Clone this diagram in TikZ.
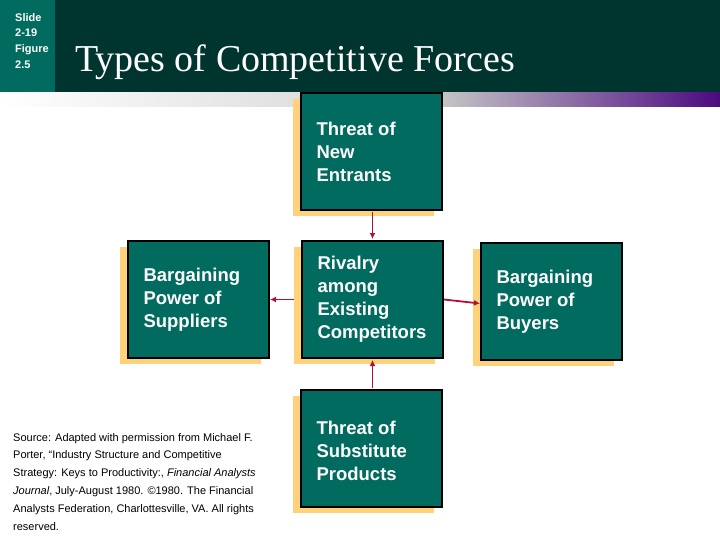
\documentclass[tikz,border=0pt]{standalone}
\usepackage{fontspec}
\usetikzlibrary{arrows.meta}
\setmainfont{Liberation Sans}
\newfontfamily\serifT{Liberation Serif}
\definecolor{teal}{HTML}{006B5E}
\definecolor{dark}{HTML}{00352F}
\definecolor{shad}{HTML}{FFD27A}
\definecolor{arr}{HTML}{B0103A}
\definecolor{purp}{HTML}{4B0A80}
\begin{document}
\begin{tikzpicture}[x=1pt,y=-1pt,
  fbox/.style={draw=black,line width=2pt,fill=teal,minimum width=141pt,minimum height=117pt,inner sep=0pt},
  ftext/.style={text=white,font=\bfseries\fontsize{18.5}{23}\selectfont,align=left,anchor=west},
  ar/.style={draw=arr,line width=1.8pt,-{Latex[length=6pt,width=6pt]}}]
\useasboundingbox (0,0) rectangle (720,540);
\fill[white] (0,0) rectangle (720,540);
% header
\fill[dark] (55,0) rectangle (720,93);
\fill[teal] (0,0) rectangle (55,93);
\shade[left color=white,right color=gray!25] (0,93) rectangle (300,107);
\shade[left color=gray!45,right color=purp] (440,93) rectangle (720,107);
\node[anchor=north west,text=white,font=\bfseries\fontsize{11}{15.7}\selectfont,align=left,inner sep=0pt] (lab) at (15,13) {Slide\\2-19\\Figure\\2.5};
\node[anchor=west,text=white,font=\serifT\fontsize{38}{38}\selectfont,inner sep=0pt] (title) at (75,62) {Types of Competitive Forces};
% shadows
\foreach \x/\y in {300/92,301/240,127/240,480/242,300/389}{
  \fill[shad] (\x-7,\y+7) rectangle (\x+134,\y+124);}
\node[fbox,anchor=north west] (top) at (300,92) {};
\node[fbox,anchor=north west] (mid) at (301,240) {};
\node[fbox,anchor=north west] (left) at (127,240) {};
\node[fbox,anchor=north west] (right) at (480,242) {};
\node[fbox,anchor=north west] (bot) at (300,389) {};
\node[ftext] at ([xshift=13pt]top.west) {Threat of\\New\\Entrants};
\node[ftext] at ([xshift=13pt]mid.west) {Rivalry\\among\\Existing\\Competitors};
\node[ftext] at ([xshift=13pt]left.west) {Bargaining\\Power of\\Suppliers};
\node[ftext] at ([xshift=13pt]right.west) {Bargaining\\Power of\\Buyers};
\node[ftext] at ([xshift=13pt,yshift=-2pt]bot.west) {Threat of\\Substitute\\Products};
% arrows
\draw[ar] ([xshift=1pt,yshift=-1pt]top.south) -- ([yshift=1pt]mid.north);
\draw[ar] ([xshift=-7pt]mid.west) -- (left.east);
\draw[ar] (mid.east) -- ([yshift=-2pt]right.west);
\draw[ar] ([xshift=1pt,yshift=1pt]bot.north) -- ([yshift=-1pt]mid.south);
% source
\node[anchor=north west,inner sep=0pt,align=left,font=\fontsize{11}{17.8}\selectfont] (src) at (13,433) {Source: Adapted with permission from Michael F.\\Porter, ``Industry Structure and Competitive\\Strategy: Keys to Productivity:, \textit{Financial Analysts}\\\textit{Journal}, July-August 1980. ©1980. The Financial\\Analysts Federation, Charlottesville, VA. All rights\\reserved.};
\end{tikzpicture}
\end{document}
